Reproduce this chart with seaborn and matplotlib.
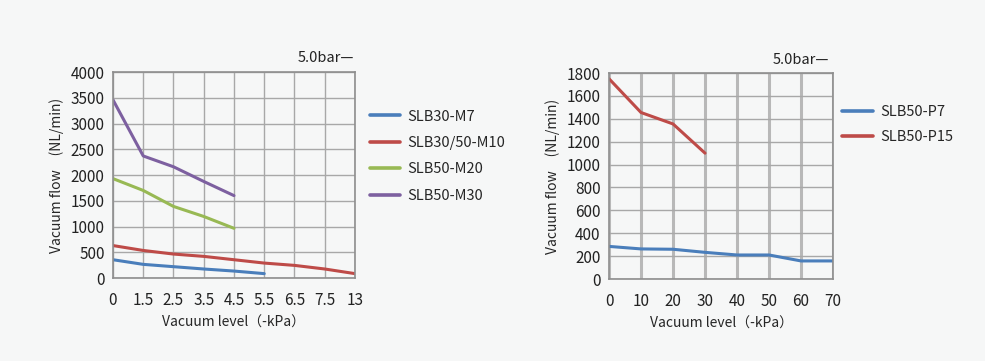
import matplotlib
matplotlib.use("Agg")
import matplotlib.pyplot as plt
import numpy as np
import pandas as pd
import seaborn as sns

# Left chart: categorical vacuum levels
left_x_labels = ["0", "1.5", "2.5", "3.5", "4.5", "5.5", "6.5", "7.5", "13"]
slb30_m7 = [355, 265, 220, 175, 135, 85]
slb30_50_m10 = [630, 535, 465, 420, 355, 290, 245, 175, 85]
slb50_m20 = [1930, 1700, 1390, 1195, 965]
slb50_m30 = [3460, 2370, 2160, 1875, 1600]
left_names = ["SLB30-M7", "SLB30/50-M10", "SLB50-M20", "SLB50-M30"]
left_series = [slb30_m7, slb30_50_m10, slb50_m20, slb50_m30]

# Right chart
right_x = [0, 10, 20, 30, 40, 50, 60, 70]
slb50_p7 = [285, 263, 260, 233, 210, 210, 158, 158]
slb50_p15 = [1750, 1455, 1355, 1100]
right_names = ["SLB50-P7", "SLB50-P15"]
right_series = [slb50_p7, slb50_p15]

colors_left = ["#4a7ebb", "#be4b48", "#98b954", "#7d60a0"]
colors_right = ["#4a7ebb", "#be4b48"]

BG = "#f6f7f7"


def build_df(xs, names, series):
    rows = []
    for name, vals in zip(names, series):
        for x, v in zip(xs, vals):
            rows.append({"x": x, "y": v, "model": name})
    return pd.DataFrame(rows)


def style_axes(ax, vgrid_lw, vgrid_color):
    ax.set_facecolor(BG)
    ax.grid(False)
    ax.yaxis.grid(True, color="#a8a8a8", lw=1.0)
    ax.xaxis.grid(True, color=vgrid_color, lw=vgrid_lw)
    ax.set_axisbelow(True)
    for s in ax.spines.values():
        s.set_visible(True)
        s.set_color("#8e8e8e")
        s.set_linewidth(1.2)
    ax.tick_params(length=0, labelsize=11, colors="#222222")
    ax.tick_params(axis="x", pad=10)
    ax.tick_params(axis="y", pad=6)
    if ax.get_legend() is not None:
        ax.get_legend().remove()


def main():
    sns.set_style("white")
    plt.rcParams["font.family"] = ["Noto Sans CJK SC", "DejaVu Sans"]

    fig = plt.figure(figsize=(9.85, 3.61), dpi=100)
    fig.patch.set_facecolor(BG)

    # Left chart
    ax1 = fig.add_axes([0.1147, 0.2299, 0.2457, 0.5706])
    left_pos = list(range(len(left_x_labels)))
    df_l = build_df(left_pos, left_names, left_series)
    sns.lineplot(data=df_l, x="x", y="y", hue="model", hue_order=left_names,
                 palette=colors_left, lw=2.2, ax=ax1, sort=False)
    style_axes(ax1, 1.0, "#a8a8a8")
    ax1.set_xlim(0, len(left_x_labels) - 1)
    ax1.set_xticks(left_pos)
    ax1.set_xticklabels(left_x_labels)
    ax1.set_ylim(0, 4000)
    ax1.set_yticks(np.arange(0, 4001, 500))
    ax1.set_xlabel("Vacuum level（-kPa）", fontsize=10, labelpad=5)
    ax1.set_ylabel("Vacuum flow　(NL/min)", fontsize=10, labelpad=5)
    ax1.text(0.995, 1.035, "5.0bar—", transform=ax1.transAxes, ha="right",
             va="bottom", fontsize=10.5, color="#222222")
    handles = [plt.Line2D([], [], color=c, lw=2.6) for c in colors_left]
    fig.legend(handles, left_names, loc="upper left",
               bbox_to_anchor=(0.362, 0.733), frameon=False, fontsize=10.5,
               handlelength=2.1, handletextpad=0.5, labelspacing=0.85)

    # Right chart
    ax2 = fig.add_axes([0.6183, 0.2271, 0.2274, 0.5706])
    df_r = build_df(right_x, right_names, right_series)
    sns.lineplot(data=df_r, x="x", y="y", hue="model", hue_order=right_names,
                 palette=colors_right, lw=2.2, ax=ax2, sort=False)
    style_axes(ax2, 2.2, "#b8b8b8")
    ax2.set_xlim(0, 70)
    ax2.set_xticks(right_x)
    ax2.set_ylim(0, 1800)
    ax2.set_yticks(np.arange(0, 1801, 200))
    ax2.set_xlabel("Vacuum level（-kPa）", fontsize=10, labelpad=5)
    ax2.set_ylabel("Vacuum flow　(NL/min)", fontsize=10, labelpad=5)
    ax2.text(0.98, 1.03, "5.0bar—", transform=ax2.transAxes, ha="right",
             va="bottom", fontsize=10.5, color="#222222")
    handles = [plt.Line2D([], [], color=c, lw=2.6) for c in colors_right]
    fig.legend(handles, right_names, loc="upper left",
               bbox_to_anchor=(0.842, 0.745), frameon=False, fontsize=10.5,
               handlelength=2.1, handletextpad=0.5, labelspacing=0.72)

    fig.savefig("out.png", dpi=100, facecolor=BG)


if __name__ == "__main__":
    main()
